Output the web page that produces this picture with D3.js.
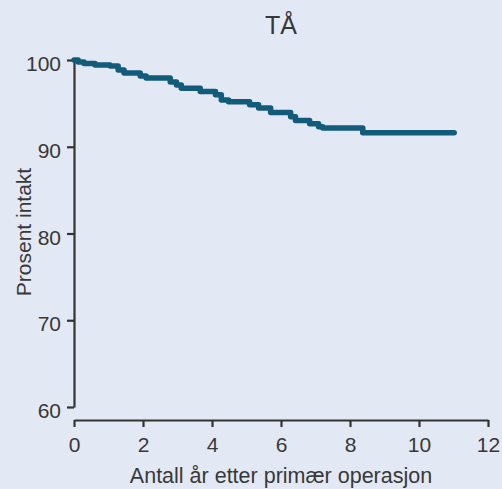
<html>
<head>
<meta charset="utf-8">
<style>
  body { margin: 0; background: #e3e9f4; }
  svg { display: block; font-family: "Liberation Sans", Arial, sans-serif; }
</style>
</head>
<body>
<script src="https://cdn.jsdelivr.net/npm/d3@7"></script>
<script>
var width = 502;
var height = 489;

// Kaplan-Meier trinn: tid (år) og prosent intakt
var years   = [0, 0.12, 0.29, 0.61, 1.05, 1.28, 1.45, 1.92, 2.09, 2.79, 2.97, 3.11, 3.66, 4.10, 4.27, 4.48, 5.09, 5.35, 5.70, 6.28, 6.42, 6.83, 7.09, 7.21, 8.37, 11.02];
var percent = [100, 99.77, 99.6, 99.43, 99.31, 98.85, 98.5, 98.16, 97.93, 97.47, 97.13, 96.75, 96.36, 95.98, 95.4, 95.2, 94.83, 94.48, 93.94, 93.45, 93.02, 92.64, 92.3, 92.15, 91.6, 91.6];
var xTicks = [0, 2, 4, 6, 8, 10, 12];
var yTicks = [60, 70, 80, 90, 100];

var svg = d3.select("body").append("svg")
  .attr("width", width)
  .attr("height", height);

var x = d3.scaleLinear().domain([0, 12]).range([74, 488]);
var y = d3.scaleLinear().domain([60, 100]).range([407, 60]);

var data = years.map(function(t, i) { return { t: t, p: percent[i] }; });

// y-akse
var yAxis = svg.append("g")
  .attr("transform", "translate(74,0)")
  .call(d3.axisLeft(y).tickValues(yTicks).tickSize(7).tickSizeOuter(0).tickPadding(6));
yAxis.selectAll(".tick text").attr("dy", "0.5em");

// x-akse, forskjøvet under plottet
var xAxis = svg.append("g")
  .attr("transform", "translate(0,420)")
  .call(d3.axisBottom(x).tickValues(xTicks).tickSize(7).tickSizeOuter(0).tickPadding(10));

[yAxis, xAxis].forEach(function(a) {
  a.select(".domain").attr("stroke", "#333").attr("stroke-width", 2.2);
  a.selectAll(".tick line").attr("stroke", "#333").attr("stroke-width", 2.2);
  a.selectAll(".tick text").attr("fill", "#383838").style("font-size", "21px");
});

// kurve
var line = d3.line()
  .x(function(d) { return x(d.t); })
  .y(function(d) { return y(d.p); })
  .curve(d3.curveStepAfter);

svg.append("path")
  .datum(data)
  .attr("fill", "none")
  .attr("stroke", "#135b7b")
  .attr("stroke-width", 5.5)
  .attr("stroke-linecap", "round")
  .attr("stroke-linejoin", "round")
  .attr("d", line);

// tittel og aksetitler
svg.append("text")
  .attr("x", 281).attr("y", 34)
  .attr("text-anchor", "middle")
  .attr("fill", "#383838")
  .style("font-size", "25px")
  .text("TÅ");

svg.append("text")
  .attr("x", 281).attr("y", 483)
  .attr("text-anchor", "middle")
  .attr("fill", "#383838")
  .style("font-size", "21.5px")
  .text("Antall år etter primær operasjon");

svg.append("text")
  .attr("transform", "translate(31,232) rotate(-90)")
  .attr("text-anchor", "middle")
  .attr("fill", "#383838")
  .style("font-size", "21px")
  .text("Prosent intakt");
</script>
</body>
</html>
